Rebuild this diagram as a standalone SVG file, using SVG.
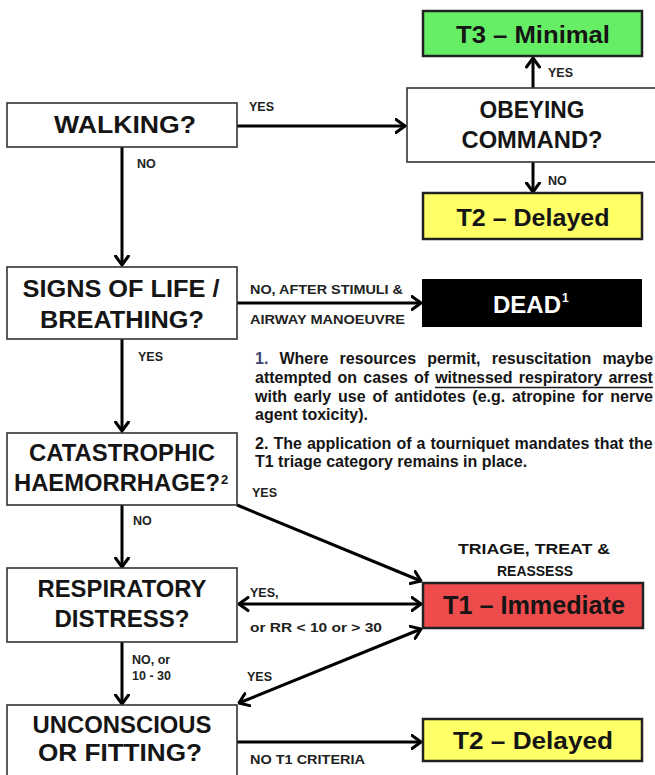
<svg xmlns="http://www.w3.org/2000/svg" width="655" height="775" viewBox="0 0 655 775">
<defs>
<style>
text{font-family:"Liberation Sans",Arial,sans-serif;font-weight:bold;fill:#151515}
.bx{fill:#fff;stroke:#333;stroke-width:1.6}
.cat{stroke:#222;stroke-width:2.5}
.big{font-size:24px;text-anchor:middle}
.lbl{font-size:12.5px;fill:#222}
.note{font-size:16px;fill:#1c1c1c}
.con path{fill:none;stroke:#000;stroke-width:3}
</style>
<marker id="ah" viewBox="0 0 12 16" refX="10.5" refY="8" markerWidth="12" markerHeight="16" markerUnits="userSpaceOnUse" orient="auto-start-reverse">
<path d="M1.5,1.5 L10.5,8 L1.5,14.5" fill="none" stroke="#000" stroke-width="3" stroke-linecap="round" stroke-linejoin="miter"/>
</marker>
</defs>
<rect width="655" height="775" fill="#fff"/>

<g class="con" id="connectors">
<path d="M237,126 H405" marker-end="url(#ah)"/>
<path d="M533,88 V58" marker-end="url(#ah)"/>
<path d="M533,162 V192" marker-end="url(#ah)"/>
<path d="M122,147 V265" marker-end="url(#ah)"/>
<path d="M237,303 H421" marker-end="url(#ah)"/>
<path d="M122,339 V431" marker-end="url(#ah)"/>
<path d="M237,505 L421,581" marker-end="url(#ah)"/>
<path d="M122,505 V567" marker-end="url(#ah)"/>
<path d="M239,604 H421" marker-start="url(#ah)" marker-end="url(#ah)"/>
<path d="M122,642 V704" marker-end="url(#ah)"/>
<path d="M239,703 L421,629" marker-start="url(#ah)" marker-end="url(#ah)"/>
<path d="M237,742 H421" marker-end="url(#ah)"/>
</g>

<g id="labels">
<text class="lbl" x="249" y="111">YES</text>
<text class="lbl" x="137" y="168">NO</text>
<text class="lbl" x="548" y="77">YES</text>
<text class="lbl" x="548" y="185">NO</text>
<text class="lbl" x="250" y="294" textLength="153" lengthAdjust="spacingAndGlyphs">NO, AFTER STIMULI &amp;</text>
<text class="lbl" x="250" y="324" textLength="155" lengthAdjust="spacingAndGlyphs">AIRWAY MANOEUVRE</text>
<text class="lbl" x="138" y="361">YES</text>
<text class="lbl" x="252" y="497">YES</text>
<text class="lbl" x="133" y="525">NO</text>
<text class="lbl" x="250" y="597">YES,</text>
<text class="lbl" x="250" y="632" textLength="132" lengthAdjust="spacingAndGlyphs">or  RR &lt; 10 or  &gt; 30</text>
<text class="lbl" x="132" y="664">NO, or</text>
<text class="lbl" x="132" y="680">10 - 30</text>
<text class="lbl" x="247" y="681">YES</text>
<text class="lbl" x="250" y="764" textLength="115" lengthAdjust="spacingAndGlyphs">NO T1 CRITERIA</text>
<text x="534" y="554" style="font-size:15.5px;text-anchor:middle" fill="#222" textLength="152" lengthAdjust="spacingAndGlyphs">TRIAGE, TREAT &amp;</text>
<text x="535" y="576" style="font-size:15.5px;text-anchor:middle" fill="#222" textLength="76" lengthAdjust="spacingAndGlyphs">REASSESS</text>
</g>

<g id="notes" class="note">
<text x="255" y="364" word-spacing="6.7"><tspan fill="#3c4470">1.</tspan> Where resources permit, resuscitation maybe</text>
<text x="255" y="383" word-spacing="1.7">attempted on cases of witnessed respiratory arrest</text>
<line x1="435" y1="387.5" x2="653" y2="387.5" stroke="#1c1c1c" stroke-width="1.3"/>
<text x="255" y="402" word-spacing="2.4">with early use of antidotes (e.g. atropine for nerve</text>
<text x="255" y="420">agent toxicity).</text>
<text x="255" y="449" word-spacing="0.6">2. The application of a tourniquet mandates that the</text>
<text x="255" y="467">T1 triage category remains in place.</text>
</g>

<g id="t3">
<rect class="cat" x="423" y="11" width="219" height="45" fill="#66ee66"/>
<text class="big" x="533" y="43" textLength="154" lengthAdjust="spacingAndGlyphs">T3 – Minimal</text>
</g>
<g id="obeying">
<rect class="bx" x="407" y="88" width="260" height="74"/>
<text class="big" x="532" y="118" textLength="105" lengthAdjust="spacingAndGlyphs">OBEYING</text>
<text class="big" x="532" y="148" textLength="141" lengthAdjust="spacingAndGlyphs">COMMAND?</text>
</g>
<g id="t2top">
<rect class="cat" x="423" y="193" width="219" height="46" fill="#ffff66"/>
<text class="big" x="533" y="226" textLength="153" lengthAdjust="spacingAndGlyphs">T2 – Delayed</text>
</g>
<g id="walking">
<rect class="bx" x="7" y="103" width="230" height="44"/>
<text class="big" x="125" y="133" textLength="142" lengthAdjust="spacingAndGlyphs">WALKING?</text>
</g>
<g id="signs">
<rect class="bx" x="7" y="267" width="230" height="72"/>
<text class="big" x="121" y="297" textLength="197" lengthAdjust="spacingAndGlyphs">SIGNS OF LIFE /</text>
<text class="big" x="122" y="328" textLength="164" lengthAdjust="spacingAndGlyphs">BREATHING?</text>
</g>
<g id="dead">
<rect x="423" y="280" width="218" height="46" fill="#000" stroke="#000" stroke-width="2"/>
<text x="527" y="313" style="font-size:24px;text-anchor:middle;fill:#fff">DEAD</text>
<text x="562" y="302" style="font-size:12px;fill:#fff">1</text>
</g>
<g id="catastrophic">
<rect class="bx" x="7" y="433" width="230" height="72"/>
<text class="big" x="122" y="461" textLength="186" lengthAdjust="spacingAndGlyphs">CATASTROPHIC</text>
<text x="14" y="491" style="font-size:24px" textLength="206" lengthAdjust="spacingAndGlyphs">HAEMORRHAGE?</text>
<text x="221" y="484" style="font-size:13px">2</text>
</g>
<g id="respiratory">
<rect class="bx" x="7" y="568" width="230" height="74"/>
<text class="big" x="122" y="597" textLength="169" lengthAdjust="spacingAndGlyphs">RESPIRATORY</text>
<text class="big" x="122" y="627" textLength="135" lengthAdjust="spacingAndGlyphs">DISTRESS?</text>
</g>
<g id="t1">
<rect class="cat" x="423" y="583" width="220" height="45" fill="#ee4c4c"/>
<text class="big" x="534" y="614" style="font-size:25px" textLength="182" lengthAdjust="spacingAndGlyphs">T1 – Immediate</text>
</g>
<g id="unconscious">
<rect class="bx" x="7" y="705" width="230" height="80"/>
<text class="big" x="122" y="733" textLength="179" lengthAdjust="spacingAndGlyphs">UNCONSCIOUS</text>
<text class="big" x="120" y="761" textLength="164" lengthAdjust="spacingAndGlyphs">OR FITTING?</text>
</g>
<g id="t2bottom">
<rect class="cat" x="423" y="719" width="219" height="42" fill="#ffff66"/>
<text class="big" x="533" y="749" textLength="160" lengthAdjust="spacingAndGlyphs">T2 – Delayed</text>
</g>
</svg>
